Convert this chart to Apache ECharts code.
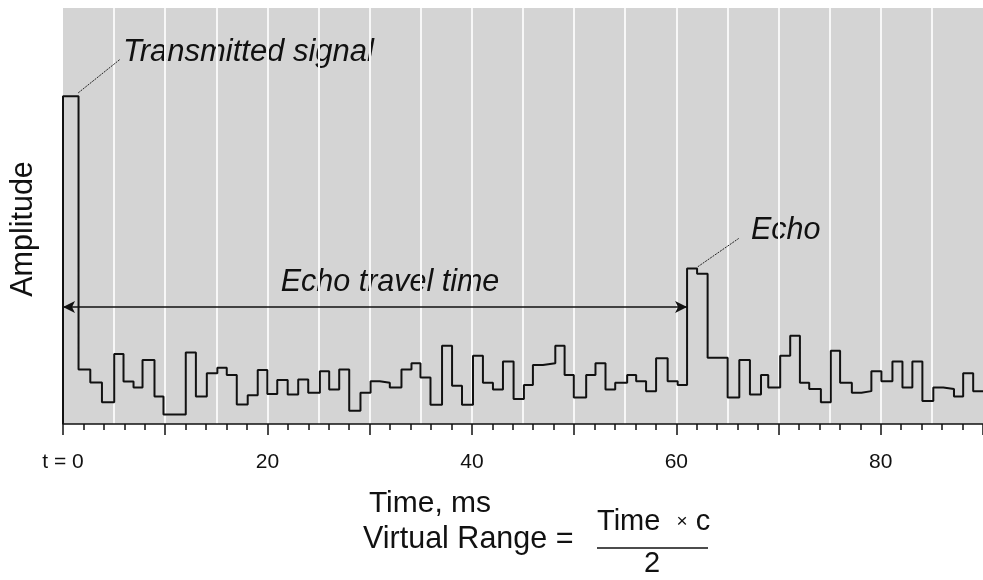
<!DOCTYPE html>
<html>
<head>
<meta charset="utf-8">
<script src="https://cdn.jsdelivr.net/npm/echarts@6/dist/echarts.min.js"></script>
<style>
  html, body { margin: 0; padding: 0; background: #fff; }
  #chart { width: 983px; height: 580px; }
</style>
</head>
<body>
<div id="chart"></div>
<script>
// Sampled return signal: each level holds from its start time until the next one (ms)
var stepStart = [
  0, 1.52, 2.67, 3.81, 5.01, 5.92, 6.9, 7.78, 8.95, 9.83,
  12.01, 13.0, 14.07, 15.1, 16.02, 17.0, 18.07, 19.05, 19.99, 20.96,
  21.98, 23.01, 23.99, 25.13, 26.04, 27.02, 28.0, 29.1, 30.09, 30.99,
  31.97, 33.11, 34.09, 34.97, 35.95, 37.08, 38.06, 39.03, 40.11, 41.08,
  42.06, 43.04, 44.08, 45.09, 45.97, 46.95, 48.16, 49.07, 49.97, 51.18,
  52.09, 53.07, 54.02, 55.19, 56.07, 57.04, 58.02, 59.15, 60.13, 61.05,
  62.03, 63.06, 65.02, 66.16, 67.2, 68.28, 68.99, 70.16, 71.14, 72.09,
  73.0, 74.14, 75.11, 76.02, 77.17, 78.11, 79.08, 80.06, 81.14, 82.12,
  83.09, 84.07, 85.14, 86.11, 87.16, 88.06, 89.04
];
var amplitude = [
  78.8, 13.1, 10.0, 5.2, 16.8, 10.2, 8.8, 15.4, 6.6, 2.3,
  17.2, 6.6, 12.2, 13.5, 11.8, 4.7, 6.9, 13.0, 7.2, 10.6,
  7.1, 10.7, 7.5, 12.7, 8.3, 13.1, 3.2, 7.5, 10.3, 9.9,
  8.8, 13.1, 14.6, 11.2, 4.6, 18.8, 9.2, 4.6, 16.4, 9.9,
  8.3, 15.0, 6.0, 9.4, 14.2, 14.6, 18.8, 11.8, 6.4, 11.8,
  14.6, 8.3, 9.9, 11.8, 10.3, 7.9, 15.8, 10.3, 9.4, 37.4,
  36.1, 15.9, 6.4, 15.4, 7.1, 11.8, 8.8, 16.4, 21.2, 9.9,
  8.4, 5.2, 17.6, 9.9, 7.5, 7.9, 12.7, 10.3, 15.0, 8.8,
  15.0, 5.5, 8.8, 8.4, 6.6, 12.2, 7.9
];
var timeEnd = 90;
var baseline = 0;

// Time-axis labels every 20 ms
var tickLabels = { 0: 't = 0', 20: '20', 40: '40', 60: '60', 80: '80' };

// Annotation anchors (time, amplitude)
var travelArrow = [[0, 28.1], [61.05, 28.1]];
var transmittedLeader = [[1.49, 79.6], [5.6, 87.7]];
var echoLeader = [[62.1, 37.8], [66.1, 44.6]];

var lineData = [[0, baseline]];
for (var i = 0; i < stepStart.length; i++) {
  lineData.push([stepStart[i], amplitude[i]]);
}
lineData.push([timeEnd, amplitude[amplitude.length - 1]]);

var font = 'Liberation Sans, Arial, sans-serif';
var ink = '#111';

var chart = echarts.init(document.getElementById('chart'), null, { renderer: 'canvas' });

chart.setOption({
  animation: false,
  grid: {
    left: 63, right: 0, top: 8, bottom: 156,
    show: true, backgroundColor: '#d4d4d4', borderWidth: 0
  },
  xAxis: [
    {
      type: 'value', min: 0, max: timeEnd, interval: 10,
      position: 'bottom', offset: 9,
      axisLine: { show: true, lineStyle: { color: ink, width: 1.5 } },
      axisTick: { show: true, length: 11, lineStyle: { color: ink, width: 1.5 } },
      minorTick: { show: true, splitNumber: 5, length: 6, lineStyle: { color: ink, width: 1.5 } },
      splitLine: { show: false },
      axisLabel: {
        show: true, margin: 19, fontFamily: font, fontSize: 21, color: ink,
        showMaxLabel: false,
        formatter: function (v) { return tickLabels[v] !== undefined ? tickLabels[v] : ''; }
      }
    },
    {
      type: 'value', min: 0, max: timeEnd, interval: 5,
      position: 'bottom',
      axisLine: { show: false }, axisTick: { show: false }, axisLabel: { show: false },
      splitLine: {
        show: true, showMinLine: false, showMaxLine: false,
        lineStyle: { color: '#f7f7f7', width: 2 }
      }
    }
  ],
  yAxis: {
    type: 'value', min: 0, max: 100, show: false,
    splitLine: { show: false }
  },
  series: [
    {
      type: 'line',
      xAxisIndex: 0,
      step: 'end',
      data: lineData,
      showSymbol: false,
      symbol: 'none',
      lineStyle: { color: ink, width: 2 },
      z: 3,
      markLine: {
        silent: true,
        animation: false,
        label: { show: false },
        emphasis: { disabled: true },
        data: [
          [
            { coord: travelArrow[0], symbol: 'arrow', symbolSize: [9, 12],
              lineStyle: { color: ink, width: 1.5, type: 'solid' } },
            { coord: travelArrow[1], symbol: 'arrow', symbolSize: [9, 12] }
          ],
          [
            { coord: transmittedLeader[0], symbol: 'none',
              lineStyle: { color: '#222', width: 1, type: [2, 1] } },
            { coord: transmittedLeader[1], symbol: 'none' }
          ],
          [
            { coord: echoLeader[0], symbol: 'none',
              lineStyle: { color: '#222', width: 1, type: [2, 1] } },
            { coord: echoLeader[1], symbol: 'none' }
          ]
        ]
      }
    }
  ],
  graphic: [
    {
      type: 'text', x: 24, y: 229, rotation: Math.PI / 2,
      style: { text: 'Amplitude', font: '30.5px ' + font, fill: ink, align: 'center', verticalAlign: 'middle' }
    },
    {
      type: 'text', x: 123, y: 52,
      style: { text: 'Transmitted signal', font: 'italic 31px ' + font, fill: ink, align: 'left', verticalAlign: 'middle' }
    },
    {
      type: 'text', x: 751, y: 231,
      style: { text: 'Echo', font: 'italic 30.5px ' + font, fill: ink, align: 'left', verticalAlign: 'middle' }
    },
    {
      type: 'text', x: 390, y: 283,
      style: { text: 'Echo travel time', font: 'italic 30.5px ' + font, fill: ink, align: 'center', verticalAlign: 'middle' }
    },
    {
      type: 'text', x: 430, y: 504,
      style: { text: 'Time, ms', font: '30px ' + font, fill: ink, align: 'center', verticalAlign: 'middle' }
    },
    {
      type: 'text', x: 363, y: 540,
      style: { text: 'Virtual Range =', font: '30.5px ' + font, fill: ink, align: 'left', verticalAlign: 'middle' }
    },
    {
      type: 'text', x: 597, y: 522,
      style: {
        text: '{a|Time  }{b|×}{a| c}',
        align: 'left', verticalAlign: 'middle',
        rich: {
          a: { font: '29px ' + font, fill: ink },
          b: { font: '19px ' + font, fill: ink }
        }
      }
    },
    {
      type: 'line',
      shape: { x1: 597, y1: 548, x2: 708, y2: 548 },
      style: { stroke: ink, lineWidth: 1.5 }
    },
    {
      type: 'text', x: 652, y: 564,
      style: { text: '2', font: '29px ' + font, fill: ink, align: 'center', verticalAlign: 'middle' }
    }
  ]
});
</script>
</body>
</html>
